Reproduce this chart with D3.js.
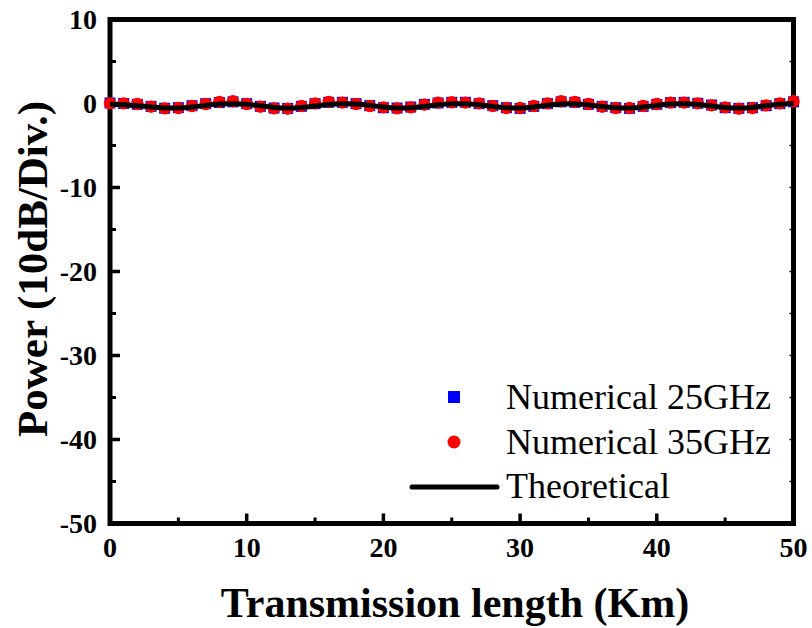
<!DOCTYPE html>
<html>
<head>
<meta charset="utf-8">
<script src="https://cdn.jsdelivr.net/npm/d3@7"></script>
<style>
  body { margin: 0; background: #fff; }
  text { font-family: "Liberation Serif", "Times New Roman", serif; }
</style>
</head>
<body>
<div class="canvas"></div>
<script>
// Data (km, dB)
const lengthKm = d3.range(0, 51)
const num25 = [0.06, 0.0, -0.1, -0.34, -0.56, -0.5, -0.26, -0.02, 0.12, 0.2, -0.02, -0.34, -0.54, -0.58, -0.34, -0.02, 0.14, 0.14, -0.02, -0.26, -0.5, -0.54, -0.42, -0.1, 0.06, 0.14,
  0.14, -0.02, -0.26, -0.5, -0.58, -0.34, -0.02, 0.2, 0.14, -0.1, -0.34, -0.5, -0.58, -0.34, -0.1, 0.1, 0.14, 0.02, -0.18, -0.5, -0.58, -0.5, -0.26, -0.02, 0.2]
const num35 = [0.02, 0.02, -0.06, -0.38, -0.58, -0.54, -0.3, -0.06, 0.18, 0.26, -0.06, -0.38, -0.58, -0.62, -0.3, 0.02, 0.18, 0.1, -0.06, -0.3, -0.46, -0.58, -0.46, -0.14, 0.1, 0.14,
  0.1, 0.02, -0.3, -0.54, -0.54, -0.3, 0.02, 0.26, 0.18, -0.06, -0.38, -0.54, -0.54, -0.3, -0.06, 0.1, 0.1, 0.02, -0.22, -0.46, -0.62, -0.54, -0.22, 0.02, 0.26]
const theory = [-0.1, -0.12, -0.25, -0.42, -0.55, -0.55, -0.42, -0.22, -0.05, 0.0, -0.08, -0.28, -0.48, -0.58, -0.5, -0.3, -0.1, 0.0, -0.05, -0.22, -0.42, -0.55, -0.52, -0.35, -0.15, -0.02,
  -0.02, -0.15, -0.35, -0.52, -0.55, -0.42, -0.2, -0.04, -0.02, -0.15, -0.36, -0.53, -0.56, -0.42, -0.22, -0.05, 0.0, -0.1, -0.3, -0.5, -0.58, -0.48, -0.28, -0.08, 0.02]
const xTicks = [0, 10, 20, 30, 40, 50]
const yTicks = [10, 0, -10, -20, -30, -40, -50]
const legendNames = ['Numerical 25GHz', 'Numerical 35GHz', 'Theoretical']

const svg = d3.select('.canvas')
  .append('svg')
  .attr('width', 812)
  .attr('height', 628)

const x = d3.scaleLinear().domain([0, 50]).range([110, 793.5])
const y = d3.scaleLinear().domain([-50, 10]).range([523.5, 19.5])

// minor ticks every 5, inward
const minorX = d3.range(5, 50, 10)
const minorY = d3.range(-45, 10, 10)

svg.append('g').selectAll('line')
  .data(minorX).enter().append('line')
  .attr('x1', d => x(d)).attr('x2', d => x(d))
  .attr('y1', y(-50)).attr('y2', y(-50) - 6)
  .attr('stroke', '#000').attr('stroke-width', 3)
svg.append('g').selectAll('line')
  .data(xTicks).enter().append('line')
  .attr('x1', d => x(d)).attr('x2', d => x(d))
  .attr('y1', y(-50)).attr('y2', y(-50) - 10)
  .attr('stroke', '#000').attr('stroke-width', 3.5)
svg.append('g').selectAll('line')
  .data(minorY).enter().append('line')
  .attr('x1', x(0)).attr('x2', x(0) + 6)
  .attr('y1', d => y(d)).attr('y2', d => y(d))
  .attr('stroke', '#000').attr('stroke-width', 3)
svg.append('g').selectAll('line')
  .data(yTicks).enter().append('line')
  .attr('x1', x(0)).attr('x2', x(0) + 10)
  .attr('y1', d => y(d)).attr('y2', d => y(d))
  .attr('stroke', '#000').attr('stroke-width', 3.5)
// faint ticks on the right side
svg.append('g').selectAll('line')
  .data(yTicks.concat(minorY)).enter().append('line')
  .attr('x1', x(50)).attr('x2', x(50) - 4)
  .attr('y1', d => y(d)).attr('y2', d => y(d))
  .attr('stroke', '#000').attr('stroke-width', 1.5)

// frame
svg.append('rect')
  .attr('x', x(0)).attr('y', y(10))
  .attr('width', x(50) - x(0)).attr('height', y(-50) - y(10))
  .attr('fill', 'none').attr('stroke', '#000').attr('stroke-width', 5)

// tick labels
svg.append('g').selectAll('text')
  .data(xTicks).enter().append('text')
  .attr('x', d => x(d)).attr('y', 557)
  .attr('text-anchor', 'middle')
  .style('font-size', '28px').style('font-weight', 'bold')
  .text(d => d)
svg.append('g').selectAll('text')
  .data(yTicks).enter().append('text')
  .attr('x', 97).attr('y', d => y(d) + 9.5)
  .attr('text-anchor', 'end')
  .style('font-size', '28px').style('font-weight', 'bold')
  .text(d => d)

// axis titles
svg.append('text')
  .attr('x', 455).attr('y', 617)
  .attr('text-anchor', 'middle')
  .style('font-size', '42px').style('font-weight', 'bold')
  .text('Transmission length (Km)')
svg.append('text')
  .attr('transform', 'translate(47, 269) rotate(-90)')
  .attr('text-anchor', 'middle')
  .style('font-size', '43px').style('font-weight', 'bold')
  .text('Power (10dB/Div.)')

// series
svg.append('g').selectAll('rect')
  .data(lengthKm).enter().append('rect')
  .attr('x', d => x(d) - 5.5).attr('y', (d, i) => y(num25[i]) - 5.5)
  .attr('width', 11).attr('height', 11)
  .attr('fill', '#0000ff')
svg.append('g').selectAll('circle')
  .data(lengthKm).enter().append('circle')
  .attr('cx', d => x(d)).attr('cy', (d, i) => y(num35[i]))
  .attr('r', 6.2)
  .attr('fill', '#ff0000')

const line = d3.line()
  .x(d => x(d))
  .y((d, i) => y(theory[i]))
  .curve(d3.curveBasis)
svg.append('path')
  .datum(lengthKm)
  .attr('d', line)
  .attr('fill', 'none')
  .attr('stroke', '#000')
  .attr('stroke-width', 5)

// legend
const legend = svg.append('g')
legend.append('rect')
  .attr('x', 448).attr('y', 391).attr('width', 12).attr('height', 12)
  .attr('fill', '#0000ff')
legend.append('circle')
  .attr('cx', 454).attr('cy', 442).attr('r', 6.5)
  .attr('fill', '#ff0000')
legend.append('line')
  .attr('x1', 412).attr('x2', 497).attr('y1', 487).attr('y2', 487)
  .attr('stroke', '#000').attr('stroke-width', 5).attr('stroke-linecap', 'round')
legend.selectAll('text.lab')
  .data(legendNames).enter().append('text')
  .attr('class', 'lab')
  .attr('x', 506).attr('y', (d, i) => 409 + i * 44.5)
  .style('font-size', '36px')
  .text(d => d)
</script>
</body>
</html>
